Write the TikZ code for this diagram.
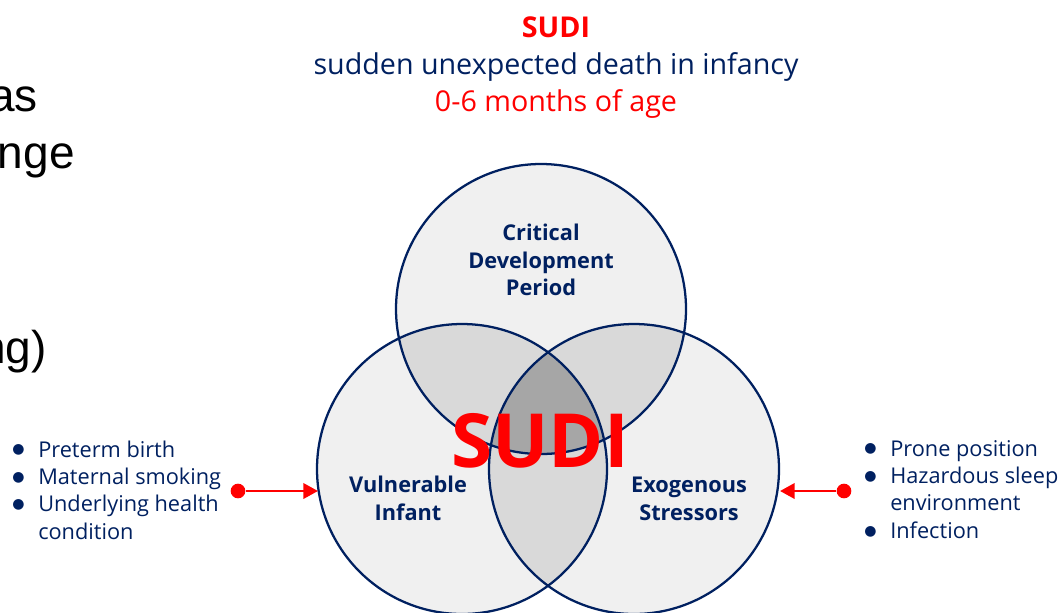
\documentclass[tikz,border=0pt]{standalone}
\usepackage{fontspec}
\setmainfont{Open Sans}
\newfontfamily\slidefont{Liberation Sans}
\newfontfamily\dotfont{DejaVu Sans}
\usetikzlibrary{arrows.meta}
\definecolor{navy}{HTML}{002060}
\definecolor{ringfill}{HTML}{F0F0F0}
\definecolor{pairfill}{HTML}{D9D9D9}
\definecolor{corefill}{HTML}{A6A6A6}
\newcommand{\factdot}{\raisebox{2.4pt}{\dotfont\fontsize{10.5}{10}\selectfont ●}}

\begin{document}
\begin{tikzpicture}[x=0.75pt, y=-0.75pt,
    ring/.style={draw=navy, line width=1.7pt},
    ringlabel/.style={text=navy, font=\bfseries\fontsize{16.3}{20.5}\selectfont, align=center, inner sep=0pt, anchor=north},
    factlist/.style={text=navy, font=\fontsize{16.3}{20.6}\selectfont, inner sep=0pt, anchor=base west},
    cutword/.style={inner sep=0pt, anchor=base east, font=\slidefont\fontsize{34.5}{36}\selectfont},
    feeddot/.style={circle, fill=red, inner sep=0pt, minimum size=11pt},
    feeds/.style={red, line width=2pt, -{Triangle[length=11pt,width=11.5pt]}}]
    %% The page is 1059 x 612 pixels, everything below is in pixels (y runs down)
    \clip (0,0) rectangle (1059,612);
    %% Centres of the three circles
    \coordinate (cdp) at (541,309);
    \coordinate (vi) at (462,469);
    \coordinate (es) at (634,469);
    %% Light fill for every circle first, then the overlaps on top
    \fill[ringfill] (cdp) circle (145);
    \fill[ringfill] (vi) circle (145);
    \fill[ringfill] (es) circle (145);
        \begin{scope}
        \clip (cdp) circle (145);
        \fill[pairfill] (vi) circle (145);
        \fill[pairfill] (es) circle (145);
        \end{scope}
        \begin{scope}
        \clip (vi) circle (145);
        \fill[pairfill] (es) circle (145);
        \end{scope}
    %% The part shared by all three is the darkest
        \begin{scope}
        \clip (cdp) circle (145);
        \clip (vi) circle (145);
        \fill[corefill] (es) circle (145);
        \end{scope}
    \draw[ring] (cdp) circle (145);
    \draw[ring] (vi) circle (145);
    \draw[ring] (es) circle (145);
    %% Labels inside the circles
    \node[ringlabel] (cdplabel) at (541,224) {Critical\\Development\\Period};
    \node[ringlabel] (vilabel) at (408,476) {Vulnerable\\Infant};
    \node[ringlabel] (eslabel) at (689,477) {Exogenous\\Stressors};
    \node[text=red, font=\bfseries\fontsize{56}{60}\selectfont, inner sep=0pt, anchor=base] (core) at (540,467) {SUDI};
    %% Heading
    \node[align=center, inner sep=0pt, anchor=north, text=navy, font=\fontsize{21.5}{27.75}\selectfont] (heading) at (556,16)
        {\textcolor{red}{\bfseries SUDI}\\sudden unexpected death in infancy\\\textcolor{red}{0-6 months of age}};
    %% Risk factors on either side
    \node[factlist] (vifacts) at (12,457) {\begin{tabular}[t]{@{}p{19.5pt}@{}l@{}}
        \factdot & Preterm birth\\
        \factdot & Maternal smoking\\
        \factdot & Underlying health\\
                    & condition
        \end{tabular}};
    \node[factlist] (esfacts) at (864,456) {\begin{tabular}[t]{@{}p{19.5pt}@{}l@{}}
        \factdot & Prone position\\
        \factdot & Hazardous sleep\\
                    & environment\\
        \factdot & Infection
        \end{tabular}};
    \node[feeddot] (vidot) at (238,491) {};
    \node[feeddot] (esdot) at (844,491) {};
    \coordinate (vitip) at (318,491);
    \coordinate (estip) at (780,491);
    \draw[feeds] (vidot) -- (vitip);
    \draw[feeds] (esdot) -- (estip);
    %% Bits of the slide text that show at the left edge
    \node[cutword] (cuta) at (38,111) {as};
    \node[cutword] (cutb) at (75,168) {nge};
    \node[cutword] (cutc) at (47,363) {ng)};
\end{tikzpicture}
\end{document}
